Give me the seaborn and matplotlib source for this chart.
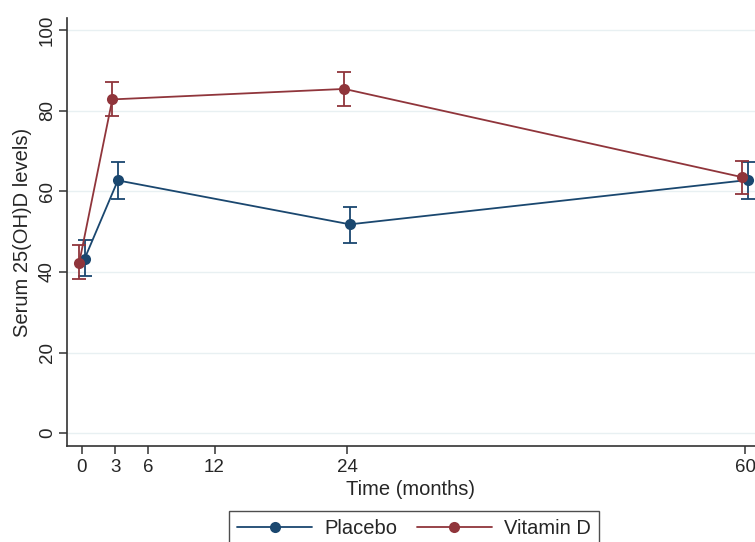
import numpy as np
import pandas as pd
import matplotlib
matplotlib.use("Agg")
import matplotlib.pyplot as plt
import seaborn as sns

months = [0, 3, 24, 60]
groups = ["Placebo", "Vitamin D"]

placebo_mean = [43.3, 62.7, 51.8, 62.8]
placebo_lo = [39.0, 58.0, 47.2, 58.0]
placebo_hi = [47.8, 67.2, 56.2, 67.3]

vitd_mean = [42.2, 82.8, 85.4, 63.5]
vitd_lo = [38.2, 78.8, 81.2, 59.4]
vitd_hi = [46.6, 87.0, 89.6, 67.5]

x_ticks = [0, 3, 6, 12, 24, 60]
y_ticks = [0, 20, 40, 60, 80, 100]

colors = {"Placebo": "#1a476f", "Vitamin D": "#90353b"}
offset = {"Placebo": 0.25, "Vitamin D": -0.25}

df = pd.DataFrame({
    "month": months * 2,
    "level": placebo_mean + vitd_mean,
    "lo": placebo_lo + vitd_lo,
    "hi": placebo_hi + vitd_hi,
    "group": ["Placebo"] * 4 + ["Vitamin D"] * 4,
})
df["xpos"] = df["month"] + df["group"].map(offset)

sns.set_style("white")
plt.rcParams["font.family"] = ["Liberation Sans", "DejaVu Sans"]

fig = plt.figure(figsize=(7.55, 5.42), dpi=100)
ax = fig.add_axes([67 / 755, 1 - 446 / 542, 1 - 67 / 755, (446 - 18) / 542])

for y in y_ticks:
    ax.axhline(y, color="#e8f0f2", lw=1.0, zorder=0)

# error bars first, then lines with markers
for g in groups:
    sub = df[df["group"] == g]
    ax.errorbar(sub["xpos"], sub["level"],
                yerr=[sub["level"] - sub["lo"], sub["hi"] - sub["level"]],
                fmt="none", ecolor=colors[g], elinewidth=1.3, capsize=5,
                capthick=1.3, zorder=2)

sns.lineplot(data=df, x="xpos", y="level", hue="group", palette=colors,
             marker="o", markersize=8, markeredgewidth=0, linewidth=1.3,
             errorbar=None, ax=ax, zorder=3)

ax.set_xlim(-1.35, 60.9)
ax.set_ylim(-3.2, 103)
ax.set_xticks(x_ticks)
ax.set_yticks(y_ticks)
ax.set_xticklabels([str(t) for t in x_ticks], fontsize=13.5)
ax.set_yticklabels([str(t) for t in y_ticks], fontsize=13.5, rotation=90, va="center")
ax.tick_params(axis="both", direction="out", length=6, width=1.1, color="#333333",
               bottom=True, left=True)
ax.tick_params(axis="x", pad=3)
ax.tick_params(axis="y", pad=2)
for s in ["top", "right"]:
    ax.spines[s].set_visible(False)
for s in ["left", "bottom"]:
    ax.spines[s].set_color("#333333")
    ax.spines[s].set_linewidth(1.2)

ax.set_xlabel("Time (months)", fontsize=14.5, labelpad=3)
ax.set_ylabel("Serum 25(OH)D levels)", fontsize=14.5, labelpad=5)

ax.get_legend().remove()
handles, labels = ax.get_legend_handles_labels()
leg = fig.legend(handles, labels, loc="upper center", ncol=2,
                 bbox_to_anchor=(414 / 755, 1 - 511 / 542), borderaxespad=0,
                 fontsize=14.5, frameon=True, fancybox=False, handlelength=3.7,
                 handletextpad=0.6, columnspacing=1.0, borderpad=0.4)
leg.get_frame().set_edgecolor("#222222")
leg.get_frame().set_linewidth(1.0)

fig.savefig("out.png", dpi=100)
